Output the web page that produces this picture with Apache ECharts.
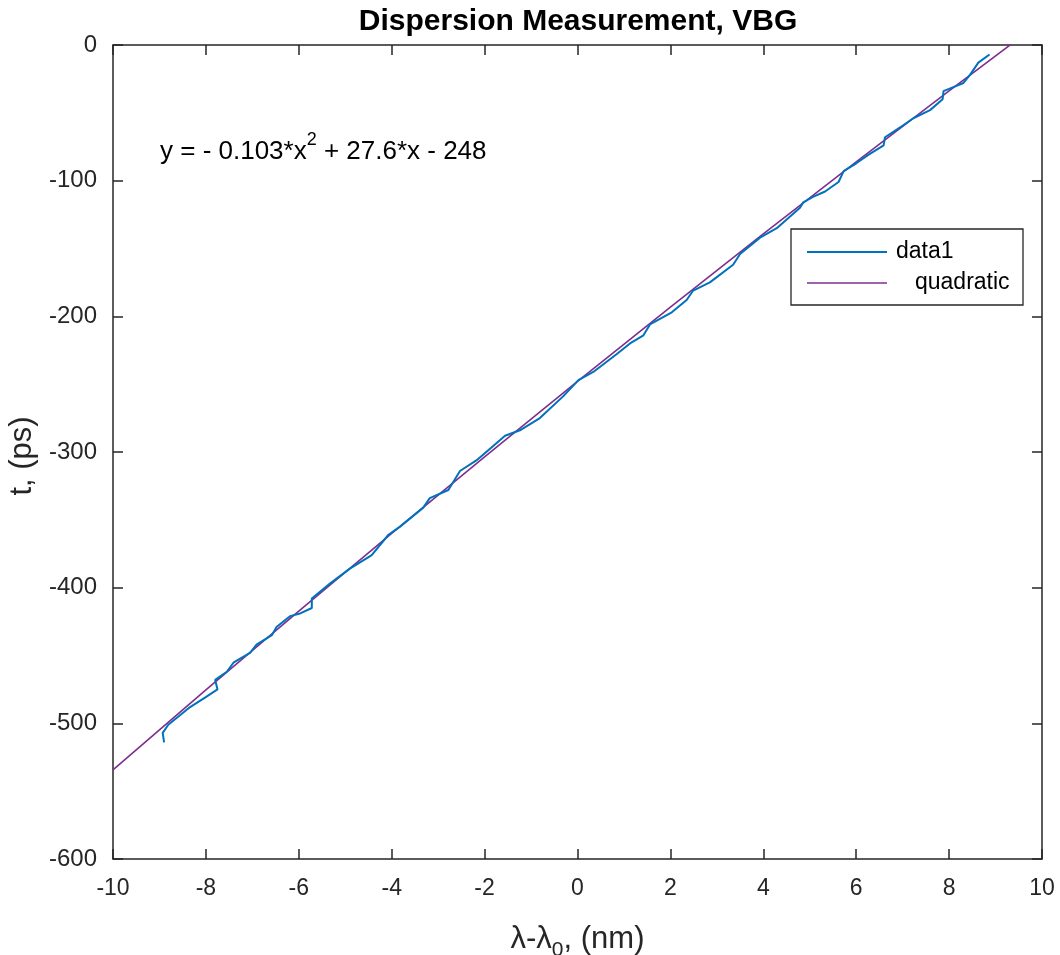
<!DOCTYPE html>
<html>
<head>
<meta charset="utf-8">
<script src="https://cdn.jsdelivr.net/npm/echarts@6/dist/echarts.min.js"></script>
<style>html,body{margin:0;padding:0;background:#fff}#c{width:1060px;height:955px}</style>
</head>
<body>
<div id="c"></div>
<script>
// ---- data ----
var data1X = [-8.90,-8.93,-8.81,-8.34,-8.02,-7.75,-7.80,-7.55,-7.40,-7.05,-6.91,-6.58,-6.48,-6.19,-5.97,-5.72,-5.72,-5.33,-4.90,-4.43,-4.07,-3.82,-3.32,-3.18,-2.78,-2.53,-2.17,-1.56,-1.24,-0.81,-0.31,0.02,0.34,0.84,1.13,1.42,1.56,2.03,2.35,2.49,2.85,3.35,3.50,3.93,4.29,4.79,4.86,5.07,5.33,5.62,5.73,6.01,6.26,6.59,6.62,7.02,7.23,7.59,7.86,7.88,8.09,8.31,8.45,8.63,8.87];
var data1Y = [-514,-507,-501,-488,-481,-475,-468,-462,-455,-448,-442,-435,-429,-421,-419,-415,-408,-397,-386,-376,-361,-355,-341,-334,-328,-314,-306,-288,-284,-275,-259,-247,-241,-228,-220,-214,-206,-197,-188,-181,-175,-162,-154,-142,-135,-120,-116,-112,-108,-101,-93,-87,-81,-74,-68,-59,-54,-48,-40,-34,-31,-28,-22,-13,-7];
var fitX = [-10,-8,-6,-4,-2,0,2,4,6,8,10];
var fitY = [-534.3,-475.4,-417.3,-360.0,-303.6,-248.0,-193.2,-139.2,-86.1,-33.8,17.7];
var xTicks = [-10,-8,-6,-4,-2,0,2,4,6,8,10];
var yTicks = [-600,-500,-400,-300,-200,-100,0];
var seriesNames = ['data1','quadratic'];
var titleText = 'Dispersion Measurement, VBG';
var eqText = ['y = - 0.103*x', '2', ' + 27.6*x - 248'];

function pairs(xs, ys){ return xs.map(function(x,i){ return [x, ys[i]]; }); }

var FONT = 'Liberation Sans, Arial, Helvetica, sans-serif';
var TXT = '#262626';
var AX = '#262626';

var chart = echarts.init(document.getElementById('c'), null, {renderer:'canvas'});
var G = {left:113, top:45, width:929, height:814, containLabel:false, outerBoundsMode:'none'};

function xAx(pos, showLabels, name){
  return {
    type:'value', position:pos, min:-10, max:10, interval:2,
    axisLine:{show:true, onZero:false, lineStyle:{color:AX, width:1.5}},
    axisTick:{show:true, inside:true, length:10, lineStyle:{color:AX, width:1.5}},
    axisLabel:{show:showLabels, fontSize:23, fontFamily:FONT, color:TXT, margin:18},
    splitLine:{show:false},
    name: name || '', nameLocation:'middle', nameGap:58,
    nameTextStyle:{fontFamily:FONT, color:TXT, fontSize:31,
      rich:{a:{fontSize:31, fontFamily:FONT, color:TXT, lineHeight:40, verticalAlign:'middle'},
            s:{fontSize:21, fontFamily:FONT, color:TXT, lineHeight:44, verticalAlign:'bottom'}}}
  };
}
function yAx(pos, showLabels, name){
  return {
    type:'value', position:pos, min:-600, max:0, interval:100,
    axisLine:{show:true, onZero:false, lineStyle:{color:AX, width:1.5}},
    axisTick:{show:true, inside:true, length:10, lineStyle:{color:AX, width:1.5}},
    axisLabel:{show:showLabels, fontSize:24, fontFamily:FONT, color:TXT, margin:16},
    splitLine:{show:false},
    name: name || '', nameLocation:'middle', nameGap:68,
    nameTextStyle:{fontFamily:FONT, color:TXT, fontSize:31, padding:[0,0,0,-8]}
  };
}

var option = {
  backgroundColor:'#ffffff',
  animation:false,
  grid:G,
  xAxis:[xAx('bottom', true, '{a|λ-λ}{s|0}{a|, (nm)}'), xAx('top', false)],
  yAxis:[yAx('left', true, 't, (ps)'), yAx('right', false)],
  series:[
    {name:seriesNames[0], type:'line', xAxisIndex:0, yAxisIndex:0, data:pairs(data1X,data1Y),
     showSymbol:false, symbol:'none', clip:true, lineStyle:{color:'#0072BD', width:2}, z:3},
    {name:seriesNames[1], type:'line', xAxisIndex:0, yAxisIndex:0, data:pairs(fitX,fitY),
     showSymbol:false, symbol:'none', clip:true, lineStyle:{color:'#7E2F8E', width:1.6}, z:2}
  ],
  graphic:[
    {type:'text', x:578, y:22, style:{text:titleText, fontSize:30, fontWeight:'bold', fontFamily:FONT, fill:'#000', align:'center', verticalAlign:'middle'}},
    {type:'text', left:160, top:131, style:{
      text:'{a|'+eqText[0]+'}{s|'+eqText[1]+'}{a|'+eqText[2]+'}',
      rich:{a:{fontSize:26, fontFamily:FONT, fill:'#000', lineHeight:34, verticalAlign:'bottom'},
            s:{fontSize:18, fontFamily:FONT, fill:'#000', lineHeight:34, verticalAlign:'top'}}}},
    {type:'rect', shape:{x:791, y:229, width:232, height:76}, style:{fill:'#fff', stroke:'#262626', lineWidth:1.3}, z:10},
    {type:'line', shape:{x1:807, y1:252, x2:887, y2:252}, style:{stroke:'#0072BD', lineWidth:2}, z:11},
    {type:'line', shape:{x1:807, y1:283, x2:887, y2:283}, style:{stroke:'#7E2F8E', lineWidth:1.6}, z:11},
    {type:'text', x:896, y:252, style:{text:seriesNames[0], fontSize:23, fontFamily:FONT, fill:'#000', verticalAlign:'middle'}, z:11},
    {type:'text', x:915, y:283, style:{text:seriesNames[1], fontSize:23, fontFamily:FONT, fill:'#000', verticalAlign:'middle'}, z:11}
  ]
};
chart.setOption(option);
</script>
</body>
</html>
